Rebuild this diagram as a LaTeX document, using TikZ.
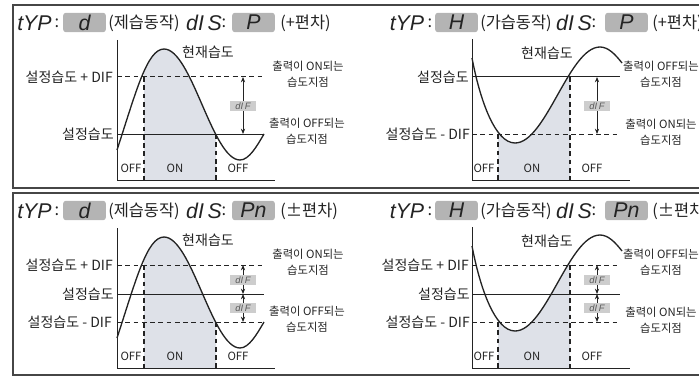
\documentclass[tikz,border=0pt]{standalone}
\usepackage{fontspec}
\setmainfont{Noto Sans CJK KR}
\newfontfamily\segfont{Liberation Sans}
\usetikzlibrary{arrows.meta}
\definecolor{ink}{RGB}{35,35,35}
\definecolor{framegray}{RGB}{70,70,70}
\definecolor{boxgray}{RGB}{180,180,180}
\definecolor{diffill}{RGB}{205,205,205}
\definecolor{difink}{RGB}{90,90,90}
\definecolor{onfill}{RGB}{222,225,232}
\begin{document}
\begin{tikzpicture}[x=0.75pt, y=-0.75pt,
  seg/.style={font=\segfont\itshape\fontsize{16}{16}\selectfont, text=ink, inner sep=0pt},
  segbox/.style={seg, fill=boxgray, rounded corners=2pt,
                 minimum width=32pt, minimum height=14.5pt},
  ttl/.style={font=\fontsize{12.3}{12.3}\selectfont, text=ink, inner sep=0pt},
  lvl/.style={font=\fontsize{10.5}{10.5}\selectfont, text=ink, anchor=east, inner sep=0pt},
  cur/.style={font=\fontsize{10.5}{10.5}\selectfont, text=ink, inner sep=0pt},
  note/.style={font=\fontsize{8.5}{12}\selectfont, text=ink, align=center, inner sep=0pt},
  onoff/.style={font=\fontsize{8.5}{8.5}\selectfont, text=ink, inner sep=0pt},
  diflbl/.style={fill=diffill, text=difink, font=\segfont\itshape\fontsize{7}{7}\selectfont,
                 minimum width=20pt, minimum height=7.5pt, inner sep=0pt},
  panelframe/.style={draw=framegray, line width=1.3pt},
  setline/.style={draw=ink, line width=0.75pt},
  difline/.style={setline, dash pattern=on 3.6pt off 2.6pt},
  vdash/.style={draw=ink, line width=0.9pt, dash pattern=on 3.6pt off 2.6pt},
  axisline/.style={draw=ink, line width=0.75pt},
  pvcurve/.style={draw=ink, line width=1pt},
  arr/.style={{Stealth[length=4pt,width=3.2pt]}-{Stealth[length=4pt,width=3.2pt]},
              draw=ink, line width=0.6pt}
]
\useasboundingbox (0,0) rectangle (699,378);
\def\dehumcurve{(117,150) .. controls (136,92) and (147,49) .. (164,49)
  .. controls (191.7,49) and (212.3,160) .. (240,160)
  .. controls (249,160) and (257,146) .. (264,134)}
\def\humcurve{(472,58) .. controls (480,100) and (495,143) .. (515,143)
  .. controls (546,143) and (569,47) .. (600,47)
  .. controls (608,47) and (615,54) .. (622,63)}

% Frames
\draw[panelframe] (13,5) rectangle (720,188);
\draw[panelframe] (13,193) rectangle (720,375);

% Top-left: dehumidify, + deviation
\node[seg] (typA) at (34.5,23) {tYP};
\node[ttl] (colA) at (57,23) {:};
\node[segbox] (modeA) at (84.5,22.5) {d};
\node[ttl, anchor=west] (actA) at (108,23) {(제습동작)};
\node[seg] (disA) at (204,23) {dI\,S};
\node[ttl] (colB) at (224,23) {:};
\node[segbox] (devA) at (253.5,22.5) {P};
\node[ttl, anchor=west] (sgnA) at (280,23) {(+편차)};

\begin{scope}
  \clip (144,40) rectangle (216,180);
  \fill[onfill] \dehumcurve |- (117,180) -- cycle;
\end{scope}
\draw[difline] (117,77) -- (264,77);
\draw[setline] (117,134) -- (264,134);
\draw[vdash] (144,77) -- (144,180);
\draw[vdash] (216,134) -- (216,180);
\draw[pvcurve] \dehumcurve;
\draw[axisline] (117,40) -- (117,180) -- (275,180);

\node[lvl] (upA) at (113,77) {설정습도 + DIF};
\node[lvl] (spA) at (114,134) {설정습도};
\node[cur] (pvA) at (208,52) {현재습도};
\node[note] (onA) at (308,74) {출력이 ON되는\\습도지점};
\node[note] (offA) at (307,131) {출력이 OFF되는\\습도지점};
\node[onoff] (s1A) at (131,168) {OFF};
\node[onoff] (s2A) at (175,168) {ON};
\node[onoff] (s3A) at (238,168) {OFF};

\coordinate (hiA) at (243,77);
\coordinate (loA) at (243,134);
\draw[arr] (hiA) -- (loA);
\node[diflbl] (difA) at (243,106) {dI\,F};

% Top-right: humidify, + deviation
\node[seg] (typB) at (407,23) {tYP};
\node[ttl] (colC) at (430,23) {:};
\node[segbox] (modeB) at (456.5,22.5) {H};
\node[ttl, anchor=west] (actB) at (480,23) {(가습동작)};
\node[seg] (disB) at (574,23) {dI\,S};
\node[ttl] (colD) at (594,23) {:};
\node[segbox] (devB) at (626.5,22.5) {P};
\node[ttl, anchor=west] (sgnB) at (652,23) {(+편차)};

\begin{scope}
  \clip (498,40) rectangle (570,180);
  \fill[onfill] \humcurve |- (472,180) -- cycle;
\end{scope}
\draw[setline] (472,77) -- (620,77);
\draw[difline] (472,134) -- (620,134);
\draw[vdash] (498,134) -- (498,180);
\draw[vdash] (570,77) -- (570,180);
\draw[pvcurve] \humcurve;
\draw[axisline] (472,39) -- (472,180) -- (630,180);

\node[lvl] (spB) at (469,77) {설정습도};
\node[lvl] (lowB) at (470,134) {설정습도 - DIF};
\node[cur] (pvB) at (547,53) {현재습도};
\node[note] (offB) at (661,74) {출력이 OFF되는\\습도지점};
\node[note] (onB) at (661,132) {출력이 ON되는\\습도지점};
\node[onoff] (s1B) at (484,168) {OFF};
\node[onoff] (s2B) at (532,168) {ON};
\node[onoff] (s3B) at (592,168) {OFF};

\coordinate (hiB) at (597,77);
\coordinate (loB) at (597,134);
\draw[arr] (hiB) -- (loB);
\node[diflbl] (difB) at (597,106) {dI\,F};

\begin{scope}[shift={(0,188)}]
% Bottom-left: dehumidify, +/- deviation
\node[seg] (typC) at (34.5,23) {tYP};
\node[ttl] (colE) at (57,23) {:};
\node[segbox] (modeC) at (84.5,22.5) {d};
\node[ttl, anchor=west] (actC) at (108,23) {(제습동작)};
\node[seg] (disC) at (204,23) {dI\,S};
\node[ttl] (colF) at (224,23) {:};
\node[segbox] (devC) at (253.5,22.5) {Pn};
\node[ttl, anchor=west] (sgnC) at (280,23) {(±편차)};

\begin{scope}
  \clip (144,40) rectangle (216,180);
  \fill[onfill] \dehumcurve |- (117,180) -- cycle;
\end{scope}
\draw[difline] (117,77) -- (264,77);
\draw[setline] (117,106) -- (264,106);
\draw[difline] (117,134) -- (264,134);
\draw[vdash] (144,77) -- (144,180);
\draw[vdash] (216,134) -- (216,180);
\draw[pvcurve] \dehumcurve;
\draw[axisline] (117,40) -- (117,180) -- (275,180);

\node[lvl] (upC) at (113,77) {설정습도 + DIF};
\node[lvl] (spC) at (114,106) {설정습도};
\node[lvl] (lowC) at (112,134) {설정습도 - DIF};
\node[cur] (pvC) at (208,52) {현재습도};
\node[note] (onC) at (308,74) {출력이 ON되는\\습도지점};
\node[note] (offC) at (307,131) {출력이 OFF되는\\습도지점};
\node[onoff] (s1C) at (131,168) {OFF};
\node[onoff] (s2C) at (175,168) {ON};
\node[onoff] (s3C) at (238,168) {OFF};

\coordinate (hiC) at (243,77);
\coordinate (midC) at (243,106);
\coordinate (loC) at (243,134);
\draw[arr] (hiC) -- (midC);
\draw[arr] (midC) -- (loC);
\node[diflbl] (dif1C) at (243,92) {dI\,F};
\node[diflbl] (dif2C) at (243,120) {dI\,F};

% Bottom-right: humidify, +/- deviation
\node[seg] (typD) at (407,23) {tYP};
\node[ttl] (colG) at (430,23) {:};
\node[segbox] (modeD) at (456.5,22.5) {H};
\node[ttl, anchor=west] (actD) at (480,23) {(가습동작)};
\node[seg] (disD) at (574,23) {dI\,S};
\node[ttl] (colH) at (594,23) {:};
\node[segbox] (devD) at (626.5,22.5) {Pn};
\node[ttl, anchor=west] (sgnD) at (652,23) {(±편차)};

\begin{scope}
  \clip (498,40) rectangle (570,180);
  \fill[onfill] \humcurve |- (472,180) -- cycle;
\end{scope}
\draw[difline] (472,77) -- (620,77);
\draw[setline] (472,106) -- (620,106);
\draw[difline] (472,134) -- (620,134);
\draw[vdash] (498,134) -- (498,180);
\draw[vdash] (570,77) -- (570,180);
\draw[pvcurve] \humcurve;
\draw[axisline] (472,39) -- (472,180) -- (630,180);

\node[lvl] (upD) at (469,77) {설정습도 + DIF};
\node[lvl] (spD) at (470,106) {설정습도};
\node[lvl] (lowD) at (470,134) {설정습도 - DIF};
\node[cur] (pvD) at (547,53) {현재습도};
\node[note] (offD) at (661,74) {출력이 OFF되는\\습도지점};
\node[note] (onD) at (661,132) {출력이 ON되는\\습도지점};
\node[onoff] (s1D) at (484,168) {OFF};
\node[onoff] (s2D) at (532,168) {ON};
\node[onoff] (s3D) at (592,168) {OFF};

\coordinate (hiD) at (597,77);
\coordinate (midD) at (597,106);
\coordinate (loD) at (597,134);
\draw[arr] (hiD) -- (midD);
\draw[arr] (midD) -- (loD);
\node[diflbl] (dif1D) at (597,92) {dI\,F};
\node[diflbl] (dif2D) at (597,120) {dI\,F};
\end{scope}
\end{tikzpicture}
\end{document}
